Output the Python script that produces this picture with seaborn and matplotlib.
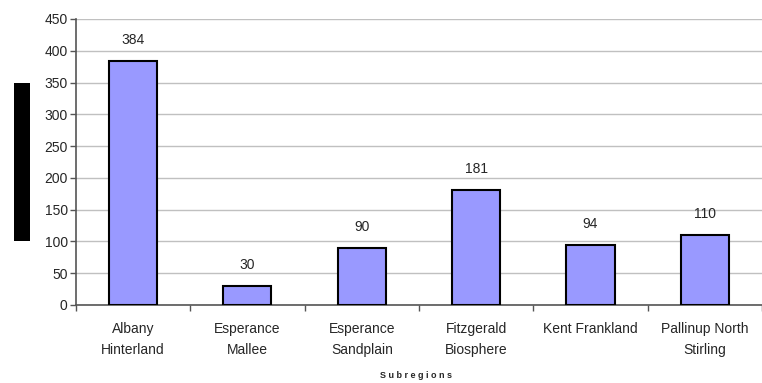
import matplotlib
matplotlib.use("Agg")
import matplotlib.pyplot as plt
import seaborn as sns
import pandas as pd
import numpy as np
from matplotlib.patches import Rectangle

subregions = ['Albany\nHinterland', 'Esperance\nMallee', 'Esperance\nSandplain',
              'Fitzgerald\nBiosphere', 'Kent Frankland', 'Pallinup North\nStirling']
counts = [384, 30, 90, 181, 94, 110]
yticks = [0, 50, 100, 150, 200, 250, 300, 350, 400, 450]

df = pd.DataFrame({'subregion': subregions, 'count': counts})

sns.set_style("white")
plt.rcParams['font.family'] = ['Liberation Sans', 'DejaVu Sans']

fig = plt.figure(figsize=(7.62, 3.83), dpi=100)
ax = fig.add_axes([0.0997, 0.2037, 0.9003, 0.7467])

sns.barplot(x='subregion', y='count', data=df, color='#9999ff', saturation=1,
            width=0.42, edgecolor='black', linewidth=1.5, ax=ax, zorder=3)

ax.set_ylim(0, 450)
ax.set_xlim(-0.5, len(subregions) - 0.5)
ax.set_yticks(yticks)
ax.yaxis.grid(True, color='#c0c0c0', linewidth=1, zorder=0)
ax.set_axisbelow(True)

# category boundary ticks on x axis
ax.set_xticks(np.arange(-0.5, len(subregions)), minor=True)
ax.tick_params(axis='x', which='minor', length=4, width=1, color='#555555', direction='out', bottom=True)
ax.tick_params(axis='x', which='major', length=0, pad=12, labelsize=10)
ax.tick_params(axis='y', which='major', length=4, width=1, color='#555555', direction='out', left=True, labelsize=10, pad=2)
for lab in ax.get_xticklabels():
    lab.set_linespacing(1.7)

for spine in ['top', 'right']:
    ax.spines[spine].set_visible(False)
ax.spines['left'].set_color('#555555')
ax.spines['bottom'].set_color('#555555')
ax.spines['left'].set_linewidth(1.2)
ax.spines['bottom'].set_linewidth(1.2)

for i, v in enumerate(counts):
    ax.annotate(str(v), (i, v), xytext=(0, 10), textcoords='offset points',
                ha='center', va='bottom', fontsize=10)

ax.set_ylabel('')
ax.set_xlabel('')
fig.text(416 / 762, 1 - 376 / 383, 'S u b r e g i o n s', fontsize=6.5, fontweight='bold',
         ha='center', va='center')

# y axis title box (rendered as a solid block in the original)
fig.patches.append(Rectangle((14 / 762, 1 - 241 / 383), 16 / 762, 158 / 383,
                             transform=fig.transFigure, facecolor='black', edgecolor='none'))

plt.savefig('out.png', dpi=100)
plt.close()
